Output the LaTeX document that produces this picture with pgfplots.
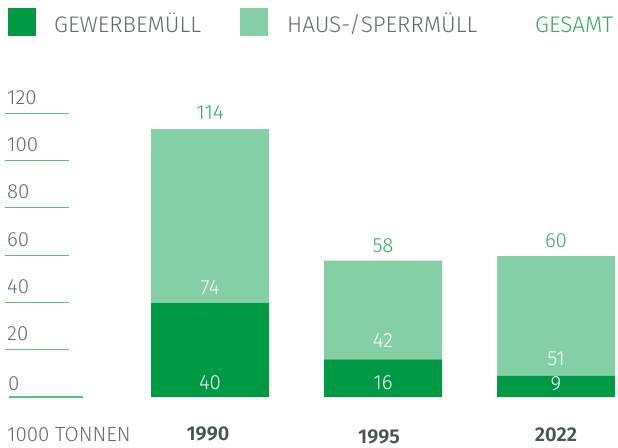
\documentclass[border=0pt]{standalone}
\usepackage{pgfplots}
\pgfplotsset{compat=1.18}
\usepackage{fontspec}
\setmainfont{Fira Sans Light}[BoldFont=Fira Sans SemiBold]
\definecolor{gwdark}{HTML}{009A44}
\definecolor{gwlight}{HTML}{84CFA5}
\definecolor{totgreen}{HTML}{34AA60}
\definecolor{txtgray}{HTML}{646B6E}
\definecolor{yeargray}{HTML}{4A5452}
\definecolor{tickline}{HTML}{5DBE86}
\newcommand{\lblfont}{\fontsize{20.5bp}{22bp}\selectfont}
\newcommand{\legfont}{\fontsize{22.5bp}{24bp}\selectfont}
\tikzset{
  ylab/.style={anchor=base west, inner sep=0pt, font=\lblfont, text=txtgray},
  ymark/.style={draw=tickline, line width=1.2bp},
  seg/.style={anchor=base, inner sep=0pt, font=\lblfont, text=white},
  tot/.style={anchor=base, inner sep=0pt, font=\lblfont, text=totgreen},
  yr/.style={anchor=base, inner sep=0pt, font=\fontsize{20bp}{22bp}\selectfont\bfseries, text=yeargray},
  leg/.style={anchor=base west, inner sep=0pt, font=\legfont},
}
\begin{document}
\begin{tikzpicture}
\begin{axis}[
    width=618bp, height=448bp, scale only axis,
    xmin=0, xmax=618, ymin=-21.70, ymax=168.94,
    hide axis, clip=false, set layers=standard,
    ybar stacked, bar width=118bp,
]
\addplot[fill=gwdark, draw=none, on layer=axis background] coordinates {(210,40) (383,16) (556,9)};
\addplot[fill=gwlight, draw=none, on layer=axis background] coordinates {(210,74) (383,42) (556,51)};

\coordinate (bl) at (rel axis cs:0,0);
\coordinate (tr) at (rel axis cs:1,1);

\draw[ymark] (axis cs:5,120.77) -- (axis cs:69,120.77);
\draw[ymark] (axis cs:5,100.64) -- (axis cs:69,100.64);
\draw[ymark] (axis cs:5,80.51) -- (axis cs:69,80.51);
\draw[ymark] (axis cs:5,60.38) -- (axis cs:69,60.38);
\draw[ymark] (axis cs:5,40.26) -- (axis cs:69,40.26);
\draw[ymark] (axis cs:5,20.13) -- (axis cs:69,20.13);
\draw[ymark] (axis cs:9,0) -- (axis cs:83,0);
\node[ylab] at (axis cs:7,124.6) {120};
\node[ylab] at (axis cs:7,104.4) {100};
\node[ylab] at (axis cs:7,84.3) {80};
\node[ylab] at (axis cs:7,64.2) {60};
\node[ylab] at (axis cs:7,44.1) {40};
\node[ylab] at (axis cs:7,23.9) {20};
\node[ylab] at (axis cs:8,2.9) {0};

\node[seg] at (axis cs:210,3) {40};
\node[seg] at (axis cs:210,43.8) {74};
\node[tot] at (axis cs:210,117.9) {114};
\node[seg] at (axis cs:383,3.4) {16};
\node[seg] at (axis cs:383,20.9) {42};
\node[tot] at (axis cs:383,61.7) {58};
\node[seg] at (axis cs:556,2.6) {9};
\node[seg] at (axis cs:556,13.5) {51};
\node[tot] at (axis cs:556,63.8) {60};

\node[yr] at (axis cs:208,-18.3) {1990};
\node[yr] at (axis cs:379,-19.6) {1995};
\node[yr] at (axis cs:556,-19.1) {2022};
\node[ylab] at (axis cs:7,-19.1) {1000 TONNEN};

\fill[gwdark] (axis cs:8,165.5) rectangle (axis cs:36,153.6);
\fill[gwlight] (axis cs:240,165.5) rectangle (axis cs:268,153.6);
\node[leg, text=txtgray] at (axis cs:54,155.0) {GEWERBEMÜLL};
\node[leg, text=txtgray] at (axis cs:287,155.0) {HAUS-/SPERRMÜLL};
\node[leg, text=totgreen] at (axis cs:535,155.0) {GESAMT};
\end{axis}
\pgfresetboundingbox
\path (bl) rectangle (tr);
\end{tikzpicture}
\end{document}
